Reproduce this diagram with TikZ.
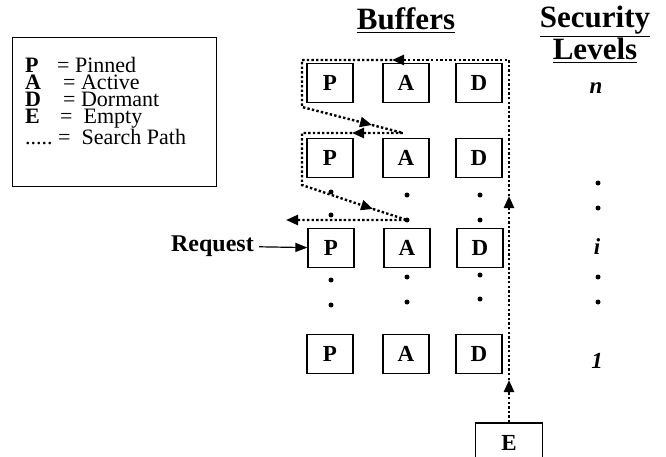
\documentclass[tikz,border=0pt]{standalone}
\usepackage{fontspec}
\setmainfont{Liberation Serif}
\usetikzlibrary{arrows.meta}

\begin{document}
\begin{tikzpicture}[x=1pt,y=-1pt,
        buf/.style = {draw, line width=1.2pt, minimum width=46pt, minimum height=39pt,
              inner sep=0pt, font=\fontsize{23}{23}\selectfont\bfseries},
        dot/.style = {circle, fill=black, minimum size=#1,
              inner sep=0pt, outer sep=0pt},
        dot/.default = 5pt,
        search/.style = {line width=2.4pt, dash pattern=on 2.4pt off 2.2pt,
              >={Triangle[length=12pt,width=10pt]}},
        hdr/.style = {anchor=base, inner sep=0pt, font=\fontsize{31}{31}\selectfont\bfseries},
        lvl/.style = {font=\fontsize{23}{23}\selectfont\bfseries\itshape},
    ]
    \useasboundingbox (0,0) rectangle (666,457);
    % Legend
    \node[draw, line width=1pt, minimum width=204pt, minimum height=149pt] (legend) at (114,112.5) {};
    \node[anchor=base west, inner sep=0pt, align=left,
          font=\fontsize{22}{17}\selectfont] (keys) at (25,145) {%
        \setlength{\lineskiplimit}{-30pt}%
        \makebox[32pt][l]{\bfseries P}= Pinned\\
        \makebox[32pt][l]{\bfseries A}\hspace{6pt}= Active\\
        \makebox[32pt][l]{\bfseries D}\hspace{6pt}= Dormant\\
        \makebox[32pt][l]{\bfseries E}\hspace{3pt}=\ \ Empty\\
        \makebox[32pt][l]{.....}\hspace{1pt}=\ \ Search Path};
    % Headers
    \node[hdr] (buffers) at (406,30) {\underline{Buffers}};
    \node[hdr] (security) at (595,28) {\underline{Security}};
    \node[hdr] (levels) at (595,60) {\underline{Levels}};
    % Buffers, level n
    \node[buf] (Pn) at (330,83) {P};
    \node[buf] (An) at (406,83) {A};
    \node[buf] (Dn) at (479,83) {D};
    \node[lvl] (n) at (596,88) {n};
    % second level
    \node[buf] (Pm) at (330,158) {P};
    \node[buf] (Am) at (406,158) {A};
    \node[buf] (Dm) at (479,158) {D};
    % level i
    \node[buf] (Pi) at (331,248) {P};
    \node[buf] (Ai) at (407,248) {A};
    \node[buf] (Di) at (480,248) {D};
    \node[lvl] (i) at (597,247) {i};
    % level 1
    \node[buf] (P1) at (330,354) {P};
    \node[buf] (A1) at (406,354) {A};
    \node[buf] (D1) at (479,354) {D};
    \node[lvl] (one) at (597,361) {1};
    % Empty
    \node[buf, minimum width=67pt, minimum height=40pt] (E) at (509,443) {E};
    % dots
    \foreach \x/\y in {331/192, 331/215, 407/195, 407/220, 480/195, 480/220,
                       331/280, 331/305, 407/277, 407/302, 480/275, 480/299,
                       598/183, 598/208, 598/277, 598/302}
        \node[dot] at (\x,\y) {};
    % Request
    \node[font=\fontsize{24}{24}\selectfont\bfseries, anchor=east, inner sep=0pt] (req) at (254,246) {Request};
    \draw[line width=1.2pt, -{Triangle[length=12pt,width=9pt]}, shorten <=5pt] (req) -- (Pi);
    % Search path
    \coordinate (a1) at (509,380);
    \coordinate (a2) at (509,196);
    \coordinate (c1) at (509,60);
    \coordinate (a3) at (392,60);
    \coordinate (c2) at (302,60);
    \coordinate (c3) at (302,107);
    \coordinate (a4) at (372,125);
    \coordinate (c4) at (403,133);
    \coordinate (a5) at (352,133);
    \coordinate (c5) at (302,133);
    \coordinate (c6) at (302,185);
    \coordinate (a6) at (373,209);
    \coordinate (c7) at (407,220);
    \coordinate (a7) at (286,220);
    \draw[search,->] (E.north) -- (a1);
    \draw[search,->] (a1) -- (a2);
    \draw[search,->] (a2) -- (c1) -- (a3);
    \draw[search,->] (a3) -- (c2) -- (c3) -- (a4);
    \draw[search,->] (a4) -- (c4) -- (a5);
    \draw[search,->] (a5) -- (c5) -- (c6) -- (a6);
    \draw[search,->] (a6) -- (c7) -- (a7);
\end{tikzpicture}
\end{document}
